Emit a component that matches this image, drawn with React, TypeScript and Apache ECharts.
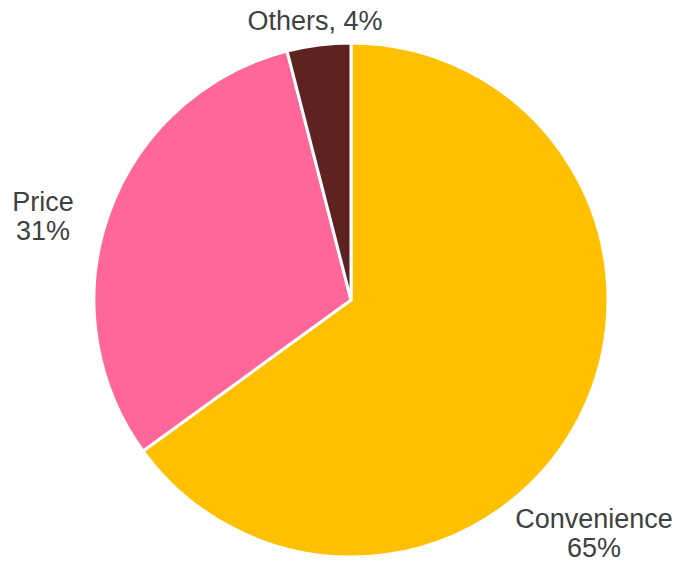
import React, { useEffect, useRef } from "react";
import * as echarts from "echarts";

const categories = ["Convenience", "Price", "Others"];
const values = [65, 31, 4];
const colors = ["#FFC000", "#FF6699", "#5E2320"];
const labelPositions: [number, number][] = [
  [594, 533],
  [43, 216],
  [315, 21],
];

export default function App() {
  const ref = useRef<HTMLDivElement>(null);
  useEffect(() => {
    if (!ref.current) return;
    const chart = echarts.init(ref.current, null, { renderer: "svg" });
    chart.setOption({
      animation: false,
      backgroundColor: "#ffffff",
      series: [
        {
          type: "pie",
          center: [351, 300],
          radius: 257,
          startAngle: 90,
          clockwise: true,
          avoidLabelOverlap: false,
          itemStyle: { borderColor: "#ffffff", borderWidth: 3 },
          label: {
            show: true,
            position: "outside",
            color: "#404040",
            fontSize: 27,
            fontFamily: "Liberation Sans, Arial, sans-serif",
            lineHeight: 29,
            align: "center",
            verticalAlign: "middle",
            formatter: (p: any) =>
              p.name === "Others" ? `${p.name}, ${p.value}%` : `${p.name}\n${p.value}%`,
          },
          labelLine: { show: false },
          labelLayout: (p: any) => {
            const pos = labelPositions[p.dataIndex];
            return { x: pos[0], y: pos[1], align: "center", verticalAlign: "middle" };
          },
          emphasis: { disabled: true },
          data: categories.map((c, i) => ({
            name: c,
            value: values[i],
            itemStyle: { color: colors[i] },
          })),
        },
      ],
    });
    return () => chart.dispose();
  }, []);
  return (
    <div
      ref={ref}
      style={{ position: "fixed", left: 0, top: 0, width: 678, height: 563 }}
    />
  );
}
